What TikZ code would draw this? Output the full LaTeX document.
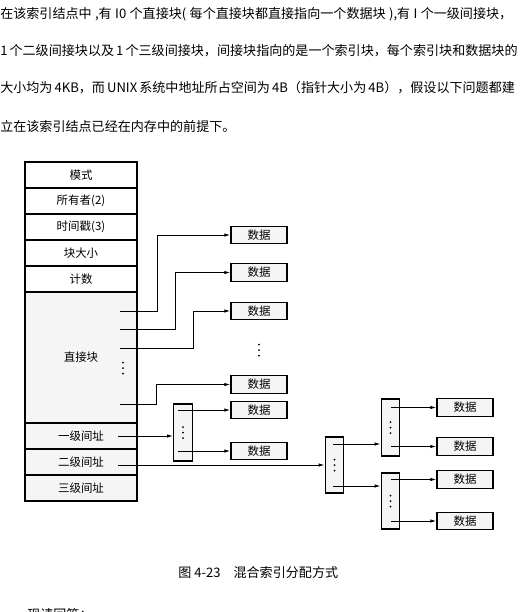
\documentclass[tikz,border=0pt]{standalone}
\usepackage{fontspec}
\setmainfont{Noto Sans CJK SC}
\XeTeXlinebreaklocale "zh"
\XeTeXlinebreakskip=0pt plus 1pt
\usetikzlibrary{arrows.meta,positioning}
\tikzset{
	bodytext/.style={
			anchor=base west,
			inner sep=0pt,
			font=\fontsize{9.8}{11}\selectfont
		},
	rowcell/.style={
			draw=black,
			line width=1pt,
			minimum width=84pt,
			minimum height=19.5pt,
			inner sep=0pt,
			font=\fontsize{8.6}{9}\selectfont
		},
	shadecell/.style={
			rowcell,
			fill=black!4
		},
	datacell/.style={
			draw=black,
			line width=1pt,
			fill=black!4,
			minimum width=42pt,
			minimum height=13.2pt,
			inner sep=0pt,
			font=\fontsize{8.6}{9}\selectfont
		},
	idxcell/.style={
			draw=black,
			line width=0.9pt,
			fill=black!4,
			minimum width=14pt,
			inner sep=0pt
		},
	dotcol/.pic={
			\fill (0,-5.5) circle (0.75pt) (0,0) circle (0.75pt) (0,5.5) circle (0.75pt);
		},
	ptr/.style={
			line width=0.7pt,
			-{Latex[length=4.5pt,width=2.6pt]}
		}
}
\begin{document}
\begin{tikzpicture}[x=0.75pt, y=-0.75pt]
\useasboundingbox (0,0) rectangle (523,612);
% text above the figure
\node[bodytext] (t1) at (0,18) {\makebox[384pt][s]{在该索引结点中 ,有 I0 个直接块( 每个直接块都直接指向一个数据块 ),有 I 个一级间接块，}};
\node[bodytext] (t2) at (0,55) {\makebox[388pt][s]{1 个二级间接块以及 1 个三级间接块，间接块指向的是一个索引块，每个索引块和数据块的}};
\node[bodytext] (t3) at (0,92) {\makebox[386pt][s]{大小均为 4KB，而 UNIX 系统中地址所占空间为 4B（指针大小为 4B），假设以下问题都建}};
\node[bodytext] (t4) at (0,131) {立在该索引结点已经在内存中的前提下。};

% i-node
\node[rowcell] (mode) at (81,175) {模式};
\node[rowcell] (owner) at (81,201) {所有者(2)};
\node[rowcell] (stamp) at (81,227) {时间戳(3)};
\node[rowcell] (size) at (81,253) {块大小};
\node[rowcell] (count) at (81,279) {计数};
\node[shadecell, minimum height=98.25pt] (direct) at (81,357.5) {直接块};
\node[shadecell] (ind1) at (81,436) {一级间址};
\node[shadecell] (ind2) at (81,462) {二级间址};
\node[shadecell] (ind3) at (81,488) {三级间址};
\pic at (123,368) {dotcol};

% data blocks of the direct pointers
\node[datacell] (data1) at (259,235) {数据};
\node[datacell] (data2) at (259,272.5) {数据};
\node[datacell] (data3) at (259,311) {数据};
\pic at (259,350) {dotcol};
\node[datacell] (data4) at (259,384.5) {数据};

% single indirect
\node[idxcell, minimum height=42.75pt] (idx1) at (183,432.5) {};
\pic at (idx1) {dotcol};
\node[datacell] (data5) at (259,410) {数据};
\node[datacell] (data6) at (259,451) {数据};

% double indirect
\node[idxcell, minimum height=42pt] (idx2) at (334.5,465) {};
\pic at (idx2) {dotcol};
\node[idxcell, minimum height=42.75pt] (idxA) at (390.5,427.5) {};
\pic at (idxA) {dotcol};
\node[idxcell, minimum height=42pt] (idxB) at (390.5,501) {};
\pic at (idxB) {dotcol};
\node[datacell] (dataA1) at (465,407.5) {数据};
\node[datacell] (dataA2) at (465,446.5) {数据};
\node[datacell] (dataB1) at (465,479.5) {数据};
\node[datacell] (dataB2) at (465,521) {数据};

% pointers
\coordinate (d1) at (120,311);
\coordinate (d2) at (120,329.5);
\coordinate (d3) at (120,348);
\coordinate (d4) at (120,404);
\draw[ptr] (d1) -- ++(37,0) |- (data1);
\draw[ptr] (d2) -- ++(55,0) |- (data2);
\draw[ptr] (d3) -- ++(73,0) |- (data3);
\draw[ptr] (d4) -- ++(36,0) |- (data4);

\coordinate (p1) at (118,436);
\draw[ptr] (p1) -- (p1 -| idx1.west);
\coordinate (p1a) at (178,410);
\coordinate (p1b) at (178,451);
\draw[ptr] (p1a) -- (data5);
\draw[ptr] (p1b) -- (data6);

\coordinate (p2) at (118,465);
\draw[ptr] (p2) -- (p2 -| idx2.west);
\coordinate (p2a) at (333,444);
\coordinate (p2b) at (333,486);
\draw[ptr] (p2a) -- (p2a -| idxA.west);
\draw[ptr] (p2b) -- (p2b -| idxB.west);

\coordinate (pAa) at (391,407.5);
\coordinate (pAb) at (391,446.5);
\coordinate (pBa) at (391,479.5);
\coordinate (pBb) at (391,521);
\draw[ptr] (pAa) -- (dataA1);
\draw[ptr] (pAb) -- (dataA2);
\draw[ptr] (pBa) -- (dataB1);
\draw[ptr] (pBb) -- (dataB2);

% caption and the cut-off line below
\node[bodytext] (cap) at (178,577) {图 4-23\quad 混合索引分配方式};
\node[bodytext] (t5) at (27,619) {现请回答：};
\end{tikzpicture}
\end{document}
